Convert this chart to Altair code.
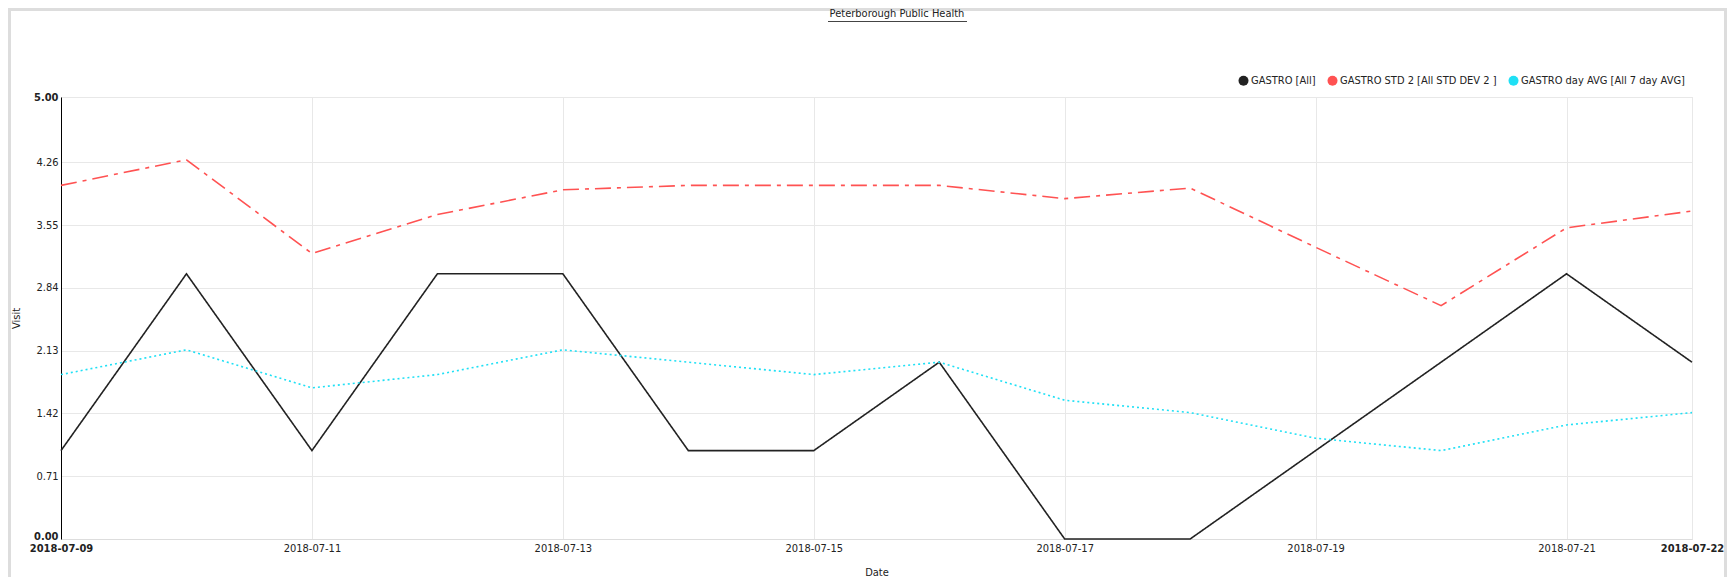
import altair as alt
import pandas as pd

dates = ["2018-07-09", "2018-07-10", "2018-07-11", "2018-07-12", "2018-07-13",
         "2018-07-14", "2018-07-15", "2018-07-16", "2018-07-17", "2018-07-18",
         "2018-07-19", "2018-07-20", "2018-07-21", "2018-07-22"]
gastro = [1, 3, 1, 3, 3, 1, 1, 2, 0, 0, 1, 2, 3, 2]
gastro_std2 = [4.00, 4.29, 3.23, 3.67, 3.95, 4.00, 4.00, 4.00, 3.85, 3.97, 3.30, 2.64, 3.52, 3.71]
gastro_avg = [1.86, 2.14, 1.71, 1.86, 2.14, 2.00, 1.86, 2.00, 1.57, 1.43, 1.14, 1.00, 1.29, 1.43]

series_names = ["GASTRO [All]", "GASTRO STD 2 [All STD DEV 2 ]", "GASTRO day AVG [All 7 day AVG]"]
series_colors = ["#222222", "#ff5252", "#1fe0f5"]
series_dashes = [[1, 0], [16, 6, 4, 6], [2, 3]]
y_ticks = [0.0, 0.71, 1.42, 2.13, 2.84, 3.55, 4.26, 5.0]
x_tick_days = [9, 11, 13, 15, 17, 19, 21, 22]
title_text = "Peterborough Public Health"

rows = []
for name, vals in zip(series_names, [gastro, gastro_std2, gastro_avg]):
    for d, v in zip(dates, vals):
        rows.append({"Date": d, "Visit": v, "Series": name})
df = pd.DataFrame(rows)

FONT = "DejaVu Sans Condensed"
W, H = 1631, 442
PAD_L, PAD_T, PAD_R, PAD_B = 53, 89, 35, 38  # total 1719 x 569

bold_edges = {"condition": {"test": "datum.index <= 0 || datum.index >= 1", "value": "bold"}, "value": "normal"}

x_enc = alt.X(
    "Date:T",
    title="Date",
    scale=alt.Scale(type="utc", domain=[alt.DateTime(year=2018, month=7, date=9, utc=True),
                                        alt.DateTime(year=2018, month=7, date=22, utc=True)]),
    axis=alt.Axis(
        values=[alt.DateTime(year=2018, month=7, date=d, utc=True) for d in x_tick_days],
        format="%Y-%m-%d",
        labelFont=FONT, labelFontSize=11, labelColor="#222",
        labelFontWeight=bold_edges,
        labelPadding=3, labelFlush=False, labelOverlap=False,
        ticks=False, domainColor="#dddddd", gridColor="#e8e8e8", grid=True,
        titleFont=FONT, titleFontSize=11, titleFontWeight="normal", titleColor="#222",
        titlePadding=13,
    ),
)
y_enc = alt.Y(
    "Visit:Q",
    title="Visit",
    scale=alt.Scale(domain=[0, 5], nice=False, zero=True),
    axis=alt.Axis(
        values=y_ticks, format=".2f",
        labelFont=FONT, labelFontSize=11, labelColor="#222",
        labelFontWeight=bold_edges,
        labelBaseline={"condition": {"test": "datum.index <= 0", "value": "alphabetic"}, "value": "middle"},
        labelPadding=3, labelOverlap=False,
        ticks=False, domainColor="#000", domainWidth=1, gridColor="#e8e8e8", grid=True,
        titleFont=FONT, titleFontSize=11, titleFontWeight="normal", titleColor="#222",
        titlePadding=12,
    ),
)

line_layers = []
for name, col, dash in zip(series_names, series_colors, series_dashes):
    line_layers.append(
        alt.Chart(df).transform_filter(alt.datum.Series == name)
        .mark_line(strokeWidth=1.6, color=col, strokeDash=dash, clip=False)
        .encode(x=x_enc, y=y_enc)
    )

legend_pts = alt.Chart(df).mark_circle(opacity=0, size=1).encode(
    x="Date:T",
    y="Visit:Q",
    fill=alt.Fill("Series:N", scale=alt.Scale(domain=series_names, range=series_colors), sort=series_names,
                  legend=alt.Legend(
                      title=None, orient="none", direction="horizontal",
                      legendX=1177, legendY=-22,
                      symbolType="circle", symbolSize=100, symbolStrokeWidth=0,
                      labelFont=FONT, labelFontSize=11, labelColor="#222", labelLimit=400,
                      labelOffset=2, columnPadding=11, symbolOpacity=1,
                  )),
)

one = pd.DataFrame({"k": [0]})
frame = alt.Chart(one).mark_rect(fill="transparent", stroke="#dddddd", strokeWidth=3).encode(
    x=alt.value(-PAD_L + 1.5), x2=alt.value(W + PAD_R - 1.5), y=alt.value(-PAD_T + 1.5), y2=alt.value(H + PAD_B + 20),
)
title_mark = alt.Chart(one).mark_text(text=title_text, font=FONT, fontSize=11, color="#222",
                                      align="center", baseline="middle").encode(
    x=alt.value(836), y=alt.value(-83),
)
underline = alt.Chart(one).mark_rule(color="#444", strokeWidth=1).encode(
    x=alt.value(767), x2=alt.value(906), y=alt.value(-75.5),
)

chart = alt.layer(frame, *line_layers, legend_pts, title_mark, underline).properties(
    width=W, height=H,
    autosize=alt.AutoSizeParams(type="none"),
    padding={"left": PAD_L, "top": PAD_T, "right": PAD_R, "bottom": PAD_B},
).configure_view(stroke=None).configure(background="white")

chart.save("out.html", embed_options={"renderer": "svg", "actions": False})
